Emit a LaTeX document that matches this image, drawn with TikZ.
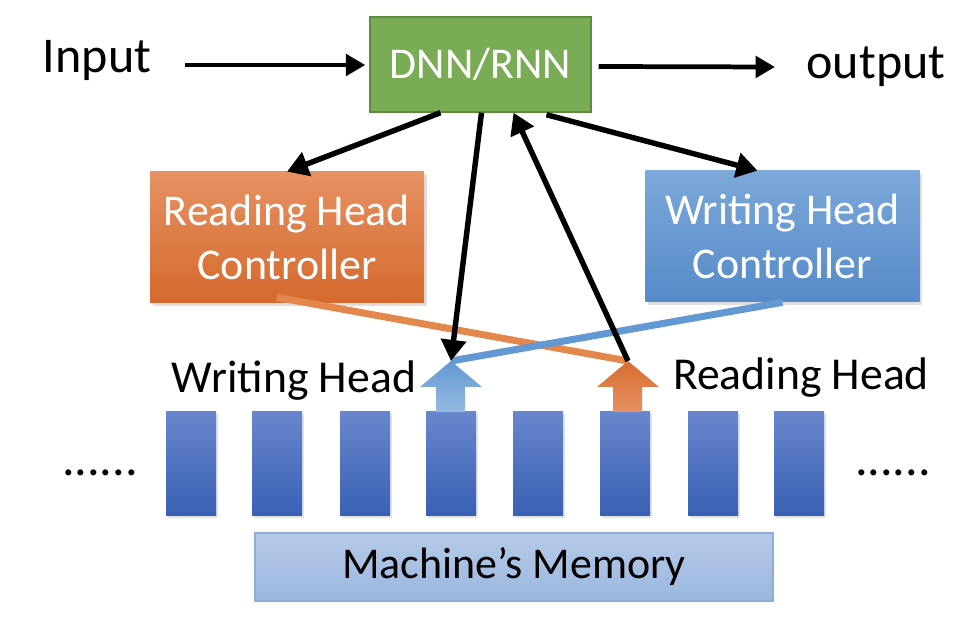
\documentclass[tikz,border=0pt]{standalone}
\usepackage{fontspec}
\setmainfont{Carlito}
\usetikzlibrary{arrows.meta,shadows,calc}
\definecolor{dnngreen}{HTML}{7AAB55}
\definecolor{dnnborder}{HTML}{5F8B3F}
\definecolor{orTop}{HTML}{E79163}
\definecolor{orBot}{HTML}{D4692C}
\definecolor{blTop}{HTML}{7CA8DA}
\definecolor{blBot}{HTML}{558AC8}
\definecolor{cellTop}{HTML}{6886CC}
\definecolor{cellBot}{HTML}{3860B4}
\definecolor{memTop}{HTML}{B6CAE7}
\definecolor{memBot}{HTML}{9BB6DF}
\definecolor{memBorder}{HTML}{8CACDA}
\definecolor{orLine}{HTML}{E4874D}
\definecolor{blLine}{HTML}{6399D2}
\tikzset{
  ctrlbox/.style={minimum width=274*0.02cm, minimum height=131*0.02cm, align=center,
    text=white, font=\fontsize{25}{31}\selectfont, inner sep=0pt,
    drop shadow={opacity=0.25, shadow xshift=1.5pt, shadow yshift=-1.5pt}},
  cell/.style={minimum width=50*0.02cm, minimum height=104*0.02cm, inner sep=0pt,
    top color=cellTop, bottom color=cellBot,
    drop shadow={opacity=0.22, shadow xshift=1.2pt, shadow yshift=-1.2pt}},
  blk/.style={line width=3.1pt, -{Triangle[length=12pt,width=14pt]}},
  toplbl/.style={font=\fontsize{28.5}{33}\selectfont, inner sep=0pt},
  lbl/.style={font=\fontsize{26}{31}\selectfont, inner sep=0pt},
}
\begin{document}
\begin{tikzpicture}[x=0.02cm,y=-0.02cm]
\useasboundingbox (0,0) rectangle (958,618);
% DNN
\node[fill=dnngreen, draw=dnnborder, line width=0.8pt, minimum width=221*0.02cm, minimum height=95*0.02cm,
  text=white, font=\fontsize{25}{29}\selectfont, inner sep=0pt] (dnn) at (480.5,64.5) {DNN/RNN};
\node[toplbl] (input) at (97,60) {Input};
\node[toplbl] (output) at (876,67) {output};
\coordinate (inS) at (185,65);
\coordinate (inE) at ($(dnn.west |- inS)+(-4,0)$);
\coordinate (outS) at ($(dnn.east)+(7,2)$);
\coordinate (outE) at (775,67);
\draw[line width=2.7pt, -{Triangle[length=11pt,width=12pt]}] (inS) -- (inE);
\draw[line width=2.7pt, -{Triangle[length=11pt,width=12pt]}] (outS) -- (outE);
% controllers
\node[ctrlbox, top color=orTop, bottom color=orBot] (rctrl) at (287,237.5) {Reading Head\\Controller};
\node[ctrlbox, top color=blTop, bottom color=blBot] (wctrl) at (782.5,236.5) {Writing Head\\Controller};
% memory cells
\foreach \i/\x in {1/191,2/277,3/365,4/451,5/538,6/625,7/713,8/799}
  \node[cell] (c\i) at (\x,464) {};
% memory box
\node[draw=memBorder, line width=0.8pt, top color=memTop, bottom color=memBot,
  minimum width=518*0.02cm, minimum height=68*0.02cm, inner sep=0pt,
  font=\fontsize{25}{30}\selectfont] (mem) at (514,567) {Machine’s Memory};
\node[toplbl] (ldots) at (100,473) {......};
\node[toplbl] (rdots) at (893,473) {......};
% head arrows
\coordinate (wtip) at (451,361);
\coordinate (rtip) at (628,361);
\shade[top color=blLine, bottom color=blTop!80!white]
  (wtip) -- (482,387) -- (465,387) -- (465,412) -- (436,412) -- (436,387) -- (420,387) -- cycle;
\shade[top color=orBot!90!orTop, bottom color=orTop]
  (rtip) -- (659,387) -- (642,387) -- (642,412) -- (613,412) -- (613,387) -- (597,387) -- cycle;
\node[lbl] (wlabel) at (294,381) {Writing Head};
\node[lbl] (rlabel) at (801,378) {Reading Head};
% crossing lines
\coordinate (rfrom) at ($(rctrl.south)+(-10,-6)$);
\draw[orLine, line width=4pt] (rfrom) -- (rtip);
\draw[blLine, line width=4pt] (wctrl.south) -- (wtip);
% black arrows
\coordinate (d1) at ($(dnn.south)+(-40,0)$);
\coordinate (d2) at ($(dnn.south)+(1,0)$);
\coordinate (d3) at ($(dnn.south)+(33,0)$);
\coordinate (d4) at ($(dnn.south)+(66,2)$);
\coordinate (wtop) at ($(wctrl.north)+(-25,0)$);
\draw[blk] (d1) -- (rctrl.north);
\draw[blk] (d2) -- (wtip);
\draw[blk] (rtip) -- (d3);
\draw[blk] (d4) -- (wtop);
\end{tikzpicture}
\end{document}
